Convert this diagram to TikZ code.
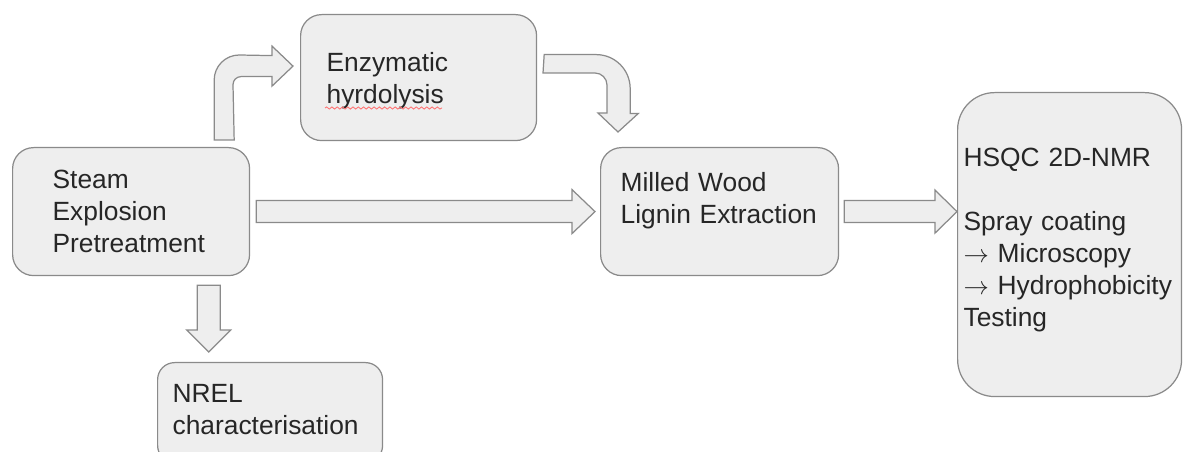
\documentclass[tikz,border=0pt]{standalone}
\usepackage{fontspec}
\setmainfont{Liberation Sans}
\usetikzlibrary{calc, decorations.pathmorphing}
\definecolor{boxfill}{HTML}{EEEEEE}
\definecolor{boxline}{HTML}{8A8A8A}

\begin{document}
\begin{tikzpicture}[
    x=0.02cm, y=0.02cm,
    box/.style={rectangle, rounded corners=0.42cm, draw=boxline, fill=boxfill, line width=0.7pt, align=left, inner xsep=0pt, inner ysep=0pt, anchor=north west, text=black!85, font=\fontsize{15}{18.2}\selectfont},
    blockarrow/.style={draw=boxline, fill=boxfill, line width=0.7pt, line join=miter}
]
\useasboundingbox (0,0) rectangle (1183,-452);

\node[box, minimum width=4.74cm, text width=3.14cm, text height=0.82cm, text depth=1.74cm] (steam) at (12,-147) {Steam\\Explosion\\Pretreatment};
\node[box, minimum width=4.72cm, text width=3.68cm, text height=1.14cm, text depth=1.38cm] (enzym) at (300,-14) {Enzymatic\\hyrdolysis};
\node[box, minimum width=4.76cm, text width=3.96cm, text height=0.88cm, text depth=1.68cm] (milled) at (600,-147) {Milled Wood\\Lignin Extraction};
\node[box, rounded corners=0.34cm, minimum width=4.5cm, text width=3.9cm, text height=0.8cm, text depth=1.2cm] (nrel) at (157,-362) {NREL\\characterisation};
\node[box, rounded corners=0.74cm, minimum width=4.48cm, text width=4.24cm, text height=1.48cm, text depth=4.6cm] (hsqc) at (957,-92) {HSQC 2D-NMR\\[18.2pt]Spray coating\\$\rightarrow$ Microscopy\\$\rightarrow$ Hydrophobicity\\Testing};

% spell-check squiggle
\draw[red!55, line width=0.5pt, decorate, decoration={snake, amplitude=0.6pt, segment length=3pt}] ($(enzym.north west)+(25,-94)$) -- ($(enzym.north west)+(142,-94)$);

% straight block arrows
\draw[blockarrow] ($(steam.east)+(6,11)$) -- ($(milled.west)+(-28,11)$) -- ++(0,11) -- ($(milled.west)+(-5,0)$) -- ($(milled.west)+(-28,-22)$) -- ++(0,11) -- ($(steam.east)+(6,-11)$) -- cycle;
\draw[blockarrow] ($(milled.east)+(5,11)$) -- ($(milled.east -| hsqc.west)+(-22,11)$) -- ++(0,10.5) -- (milled.east -| hsqc.west) -- ($(milled.east -| hsqc.west)+(-22,-21.5)$) -- ++(0,10.5) -- ($(milled.east)+(5,-11)$) -- cycle;

\coordinate (dtail) at ($(steam.south east)+(-41.5,-9)$);
\coordinate (dtip) at ($(steam.south east |- nrel.north)+(-41.5,10)$);
\draw[blockarrow] ($(dtail)+(-11.5,0)$) -- ($(dtip)+(-11.5,22)$) -- ++(-10.5,0) -- (dtip) -- ($(dtip)+(22,22)$) -- ++(-10.5,0) -- ($(dtail)+(11.5,0)$) -- cycle;

% bent block arrows
\coordinate (utail) at ($(steam.north east)+(-36,7)$);
\coordinate (utip) at ($(enzym.west)+(-7,11.5)$);
\draw[blockarrow] (utail) -- ++(0,60) .. controls +(0,13.8) and +(-13.8,0) .. ++(25,25) -- ($(utip)+(-21,10.5)$) -- ++(0,9.5) -- (utip) -- ($(utip)+(-21,-20)$) -- ++(0,9.5) -- ++(-31,0) .. controls +(-4.4,0) and +(0,4.4) .. ++(-8,-8) -- ($(utail)+(20,0)$) -- cycle;

\coordinate (rtail) at ($(enzym.east)+(7,23)$);
\coordinate (rtip) at ($(milled.north west)+(18,15)$);
\draw[blockarrow] (rtail) -- ++(52,0) .. controls +(18.8,0) and +(0,18.8) .. ++(34,-34) -- ++(0,-25) -- ++(8,0) -- (rtip) -- ++(-20,19) -- ++(9,0) -- ++(0,28) .. controls +(0,6.6) and +(6.6,0) .. ++(-12,12) -- ++(-52,0) -- cycle;

\end{tikzpicture}
\end{document}
